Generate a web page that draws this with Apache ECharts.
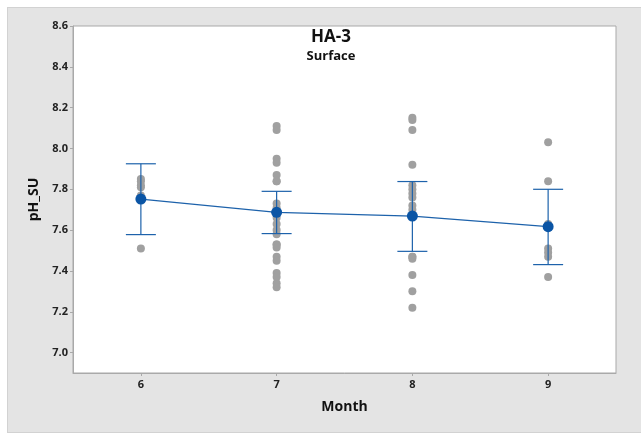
<!DOCTYPE html>
<html>
<head>
<meta charset="utf-8">
<script src="https://cdn.jsdelivr.net/npm/echarts@6/dist/echarts.min.js"></script>
<style>
  html, body { margin: 0; padding: 0; background: #ffffff; }
  #bg { position: absolute; left: 7px; top: 7px; width: 640px; height: 424px; background: #e4e4e4; border: 1px solid #d2d2d2; border-right: none; }
  #chart { position: absolute; left: 0; top: 0; width: 641px; height: 434px; }
</style>
</head>
<body>
<div id="bg"></div>
<div id="chart"></div>
<script>
// ---- Data ----
const months = [6, 7, 8, 9];
const ph6 = [7.85, 7.84, 7.82, 7.81, 7.77, 7.51];
const ph7 = [8.11, 8.09, 7.95, 7.93, 7.87, 7.84, 7.84, 7.73, 7.71, 7.69, 7.66, 7.63, 7.60, 7.58, 7.53, 7.53, 7.515, 7.47, 7.45, 7.39, 7.37, 7.34, 7.32];
const ph8 = [8.15, 8.14, 8.09, 7.92, 7.82, 7.80, 7.78, 7.76, 7.72, 7.70, 7.47, 7.47, 7.46, 7.38, 7.30, 7.22];
const ph9 = [8.03, 7.84, 7.63, 7.51, 7.49, 7.47, 7.37];
const means = [7.752, 7.687, 7.669, 7.617];
const ciLow = [7.578, 7.583, 7.496, 7.431];
const ciHigh = [7.925, 7.790, 7.838, 7.800];
const yTicks = [7.0, 7.2, 7.4, 7.6, 7.8, 8.0, 8.2, 8.4, 8.6];
const xTicks = [6, 7, 8, 9];

// ---- Build series data ----
const groups = [ph6, ph7, ph8, ph9];
const pointData = [];
groups.forEach((arr, i) => arr.forEach(v => pointData.push([months[i], v])));
const meanData = months.map((m, i) => [m, means[i]]);
const ciData = months.map((m, i) => [m, ciLow[i], ciHigh[i]]);

const blue = '#1d62ab';
const font = '"Open Sans", "Noto Sans", sans-serif';

const chart = echarts.init(document.getElementById('chart'));
chart.setOption({
  backgroundColor: 'transparent',
  animation: false,
  title: {
    text: 'HA-3',
    subtext: 'Surface',
    left: 326,
    top: 24,
    textAlign: 'center',
    itemGap: 4,
    textStyle: { fontFamily: font, fontSize: 17, fontWeight: 'bold', color: '#111' },
    subtextStyle: { fontFamily: font, fontSize: 13, fontWeight: 'bold', color: '#111' }
  },
  grid: {
    left: 73, top: 26, right: 25, bottom: 61,
    show: true, backgroundColor: '#ffffff', borderColor: '#a9a9a9', borderWidth: 1
  },
  xAxis: {
    type: 'value',
    min: 5.5, max: 9.5,
    name: 'Month',
    nameLocation: 'middle',
    nameGap: 27,
    nameTextStyle: { fontFamily: font, fontSize: 14, fontWeight: 'bold', color: '#111' },
    splitLine: { show: false },
    axisLine: { show: true, lineStyle: { color: '#a9a9a9' } },
    axisTick: { show: true, length: 3, customValues: xTicks, lineStyle: { color: '#a9a9a9' } },
    axisLabel: { customValues: xTicks, fontFamily: font, fontSize: 11, fontWeight: 'bold', color: '#222', margin: 6,
      formatter: v => String(v) }
  },
  yAxis: {
    type: 'value',
    min: 6.9, max: 8.6,
    name: 'pH_SU',
    nameLocation: 'middle',
    nameGap: 23,
    nameTextStyle: { fontFamily: font, fontSize: 14, fontWeight: 'bold', color: '#111' },
    splitLine: { show: false },
    axisLine: { show: true, lineStyle: { color: '#a9a9a9' } },
    axisTick: { show: true, length: 3, customValues: yTicks, lineStyle: { color: '#a9a9a9' } },
    axisLabel: { customValues: yTicks, fontFamily: font, fontSize: 11, fontWeight: 'bold', color: '#222', margin: 5,
      formatter: v => v.toFixed(1) }
  },
  series: [
    {
      type: 'scatter',
      data: pointData,
      symbol: 'circle',
      symbolSize: 8,
      itemStyle: { color: '#a0a0a0', opacity: 1 },
      z: 2
    },
    {
      type: 'custom',
      data: ciData,
      z: 3,
      renderItem: function (params, api) {
        const x = api.value(0), lo = api.value(1), hi = api.value(2);
        const pLo = api.coord([x, lo]);
        const pHi = api.coord([x, hi]);
        const hw = 15;
        const st = { stroke: blue, lineWidth: 1.2 };
        return {
          type: 'group',
          children: [
            { type: 'line', shape: { x1: pLo[0], y1: pLo[1], x2: pHi[0], y2: pHi[1] }, style: st },
            { type: 'line', shape: { x1: pLo[0] - hw, y1: pLo[1], x2: pLo[0] + hw, y2: pLo[1] }, style: st },
            { type: 'line', shape: { x1: pHi[0] - hw, y1: pHi[1], x2: pHi[0] + hw, y2: pHi[1] }, style: st }
          ]
        };
      }
    },
    {
      type: 'line',
      data: meanData,
      symbol: 'circle',
      symbolSize: 11,
      showSymbol: true,
      lineStyle: { color: blue, width: 1.2 },
      itemStyle: { color: '#0b55a5' },
      z: 4
    }
  ]
});
</script>
</body>
</html>
